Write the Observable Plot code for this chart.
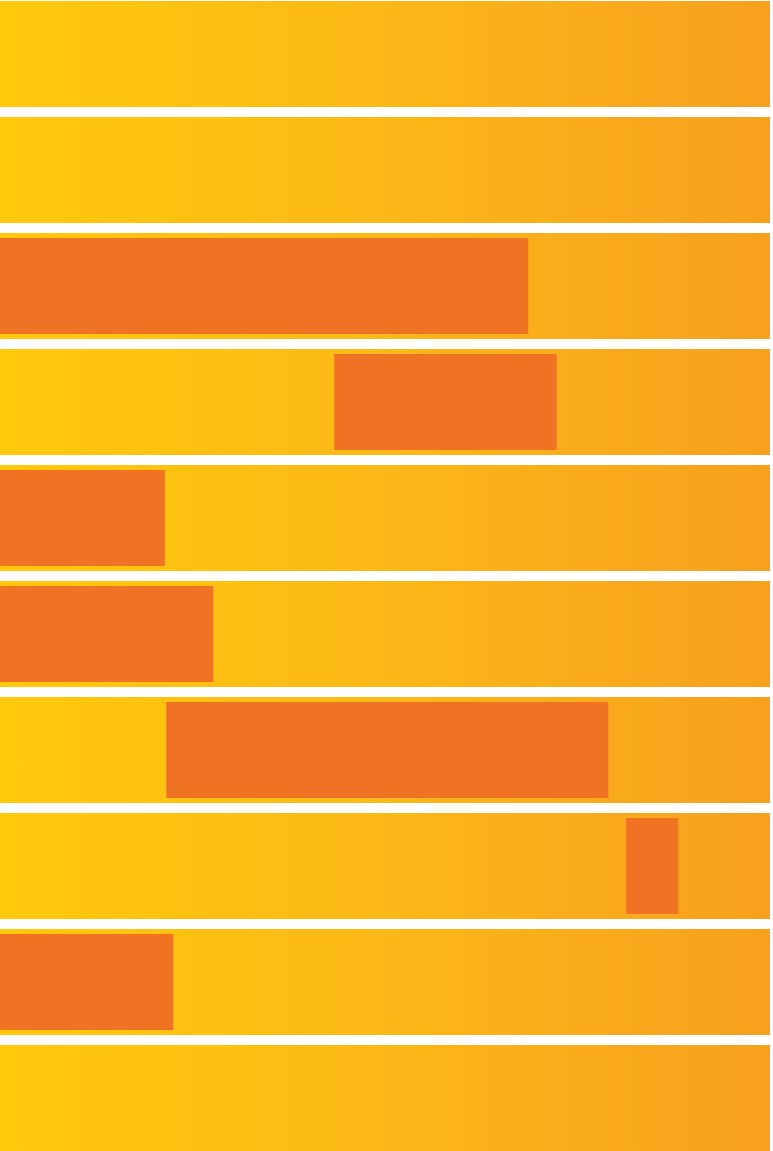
<!DOCTYPE html>
<html>
<head>
<meta charset="utf-8">
<script src="https://cdn.jsdelivr.net/npm/d3@7"></script>
<script src="https://cdn.jsdelivr.net/npm/@observablehq/plot@0.6"></script>
<style>
  html, body { margin: 0; padding: 0; background: #ffffff; }
  #chart svg { display: block; }
</style>
</head>
<body>
<div id="chart"></div>
<script>
// Rows (top to bottom)
const rows = [1, 2, 3, 4, 5, 6, 7, 8, 9, 10];
// Range bars: row, start, end (x scale 0..100)
const barRows   = [3, 4, 5, 6, 7, 8, 9];
const barStarts = [0, 43.4, 0, 0, 21.6, 81.3, 0];
const barEnds   = [68.6, 72.3, 21.4, 27.7, 79.0, 88.1, 22.5];

const backgrounds = rows.map(r => ({row: r, x1: 0, x2: 100}));
const bars = barRows.map((r, i) => ({row: r, x1: barStarts[i], x2: barEnds[i]}));

const chart = Plot.plot({
  width: 773,
  height: 1151,
  marginTop: 0,
  marginBottom: 0,
  marginLeft: 0,
  marginRight: 3,
  style: {background: "#ffffff"},
  x: {domain: [0, 100], axis: null},
  y: {domain: rows, axis: null, paddingInner: 0.09, paddingOuter: 0},
  marks: [
    () => {
      const ns = "http://www.w3.org/2000/svg";
      const defs = document.createElementNS(ns, "defs");
      const g = document.createElementNS(ns, "linearGradient");
      g.setAttribute("id", "rowgrad");
      g.setAttribute("x1", "0"); g.setAttribute("x2", "1");
      g.setAttribute("y1", "0"); g.setAttribute("y2", "0");
      [["0%", "#ffc90b"], ["50%", "#fcb817"], ["100%", "#f7a01e"]].forEach(([o, c]) => {
        const s = document.createElementNS(ns, "stop");
        s.setAttribute("offset", o);
        s.setAttribute("stop-color", c);
        g.appendChild(s);
      });
      defs.appendChild(g);
      return defs;
    },
    Plot.barX(backgrounds, {x1: "x1", x2: "x2", y: "row", fill: "url(#rowgrad)"}),
    Plot.barX(bars, {x1: "x1", x2: "x2", y: "row", fill: "#ef7322", insetTop: 5, insetBottom: 5})
  ]
});
document.getElementById("chart").appendChild(chart);
</script>
</body>
</html>
